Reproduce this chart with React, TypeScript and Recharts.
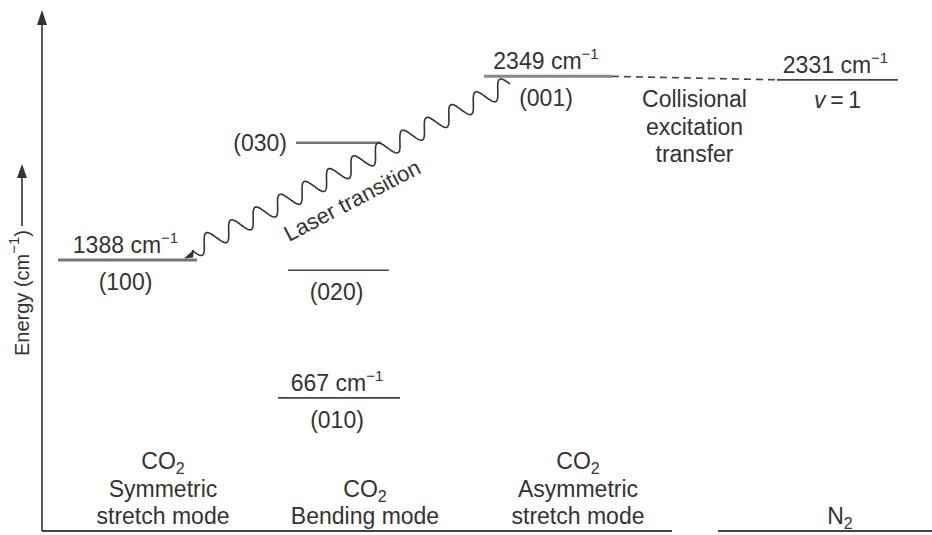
import React from "react";
import { ComposedChart, XAxis, YAxis, ReferenceLine, ReferenceDot } from "recharts";

const FONT = "'Liberation Sans', Arial, Helvetica, sans-serif";
const INK = "#333";
const FS = 23;

// vibrational levels, energy in cm^-1
const levelStates = ["(100)", "(030)", "(020)", "(010)", "(001)", "v=1"];
const levelEnergies = [1388, 2001, 1334, 667, 2349, 2331];
const levelValueLabels = ["1388", "", "", "667", "2349", "2331"];

// captions under the diagram
const modeCaptions = [
  ["CO₂", "Symmetric", "stretch mode"],
  ["CO₂", "Bending mode"],
  ["CO₂", "Asymmetric", "stretch mode"],
  ["N₂"],
];

const transferText = ["Collisional", "excitation", "transfer"];
const laserText = "Laser transition";

// layout (diagram x units = px)
const levelSpans = [
  [58, 197],
  [296, 381],
  [288, 389],
  [278, 400],
  [484, 612],
  [777, 898],
];
const levelColors = ["#777", "#777", "#444", "#444", "#888", "#444"];
const levelWidths = [3, 2.5, 1.6, 1.8, 3, 1.8];
const modeCenters = [163, 365, 578, 840];

const W = 932;
const H = 535;
const E_MIN = -30;
const E_MAX = 2670;

const chartData = levelEnergies.map((e, i) => ({
  x: (levelSpans[i][0] + levelSpans[i][1]) / 2,
  energy: e,
}));

const Sup = () => (
  <tspan dy={-10} fontSize={15}>
    −1
  </tspan>
);

function Caption({ text, x, y }: { text: string; x: number; y: number }) {
  const parts = text.split("₂");
  if (parts.length > 1) {
    return (
      <text x={x} y={y} textAnchor="middle" fontSize={FS} fill={INK} fontFamily={FONT}>
        {parts[0]}
        <tspan dy={5} fontSize={16}>
          2
        </tspan>
      </text>
    );
  }
  return (
    <text x={x} y={y} textAnchor="middle" fontSize={FS} fill={INK} fontFamily={FONT}>
      {text}
    </text>
  );
}

function levelShape(i: number) {
  return (p: any) => {
    const { x1, x2, y1 } = p;
    const cx = (x1 + x2) / 2;
    const state = levelStates[i];
    const value = levelValueLabels[i];
    return (
      <g>
        <line x1={x1} y1={y1} x2={x2} y2={y1} stroke={levelColors[i]} strokeWidth={levelWidths[i]} />
        {value && (
          <text x={cx - 2} y={y1 - 7} textAnchor="middle" fontSize={FS} fill={INK} fontFamily={FONT}>
            {value} cm
            <Sup />
          </text>
        )}
        {i === 1 ? (
          <text x={x1 - 9} y={y1 + 8} textAnchor="end" fontSize={FS} fill={INK} fontFamily={FONT}>
            {state}
          </text>
        ) : state === "v=1" ? (
          <text x={cx} y={y1 + 28} textAnchor="middle" fontSize={FS} fill={INK} fontFamily={FONT}>
            <tspan fontStyle="italic">v</tspan>
            {"\u2009=\u20091"}
          </text>
        ) : (
          <text x={cx - 2} y={y1 + 30} textAnchor="middle" fontSize={FS} fill={INK} fontFamily={FONT}>
            {state}
          </text>
        )}
      </g>
    );
  };
}

const transferShape = (p: any) => {
  const { x1, x2, y1, y2 } = p;
  const cx = (x1 + x2) / 2;
  return (
    <g>
      <line x1={x1} y1={y1} x2={x2} y2={y2} stroke="#444" strokeWidth={1.6} strokeDasharray="7 5" />
      {transferText.map((t, k) => (
        <text key={k} x={cx} y={y1 + 31 + k * 27.5} textAnchor="middle" fontSize={FS} fill={INK} fontFamily={FONT}>
          {t}
        </text>
      ))}
    </g>
  );
};

const waveShape = (p: any) => {
  const { x1, y1, x2, y2 } = p;
  const dx = x2 - x1;
  const dy = y2 - y1;
  const len = Math.hypot(dx, dy);
  const ux = dx / len;
  const uy = dy / len;
  const nx = -uy;
  const ny = ux;
  const periods = 13;
  const amp = 9;
  let d = "";
  const steps = 700;
  for (let k = 0; k <= steps; k++) {
    const t = k / steps;
    const off = amp * Math.sin(2 * Math.PI * periods * t);
    const px = x1 + dx * t + nx * off;
    const py = y1 + dy * t + ny * off;
    d += (k === 0 ? "M" : "L") + px.toFixed(2) + "," + py.toFixed(2);
  }
  const mx = x1 + dx * 0.46 + nx * 30;
  const my = y1 + dy * 0.46 + ny * 30;
  const ang = (Math.atan2(dy, dx) * 180) / Math.PI;
  return (
    <g>
      <path d={d} fill="none" stroke="#333" strokeWidth={1.6} />
      <polygon
        points={`${x1 - 8},${y1 + 8} ${x1 + 2},${y1 - 1} ${x1 + 1},${y1 + 7}`}
        fill="#333"
      />
      <text
        x={mx}
        y={my}
        textAnchor="middle"
        dominantBaseline="central"
        fontSize={FS - 1}
        fill={INK}
        fontFamily={FONT}
        transform={`rotate(${ang} ${mx} ${my})`}
      >
        {laserText}
      </text>
    </g>
  );
};

const arrowHead = (p: any) => {
  const { cx, cy } = p;
  return <polygon points={`${cx},${cy - 5} ${cx - 5},${cy + 10} ${cx + 5},${cy + 10}`} fill="#333" />;
};

const EnergyLabel = () => (
  <g>
    <text
      x={29}
      y={356}
      textAnchor="start"
      fontSize={20}
      fill={INK}
      fontFamily={FONT}
      transform="rotate(-90 29 356)"
    >
      Energy (cm
      <Sup />
      <tspan dy={10}>)</tspan>
    </text>
    <line x1={22} y1={226} x2={22} y2={176} stroke="#333" strokeWidth={1.6} />
    <polygon points="22,164 17,178 27,178" fill="#333" />
  </g>
);

const ModeTick = (p: any) => {
  const idx = modeCenters.indexOf(p.payload.value);
  const lines = modeCaptions[idx] || [];
  const n = lines.length;
  return (
    <g>
      {lines.map((t, k) => (
        <Caption key={k} text={t} x={p.x} y={524 - (n - 1 - k) * 27.5} />
      ))}
    </g>
  );
};

export default function App() {
  return (
    <div style={{ position: "absolute", left: 0, top: 0, width: W, height: H, background: "#fff" }}>
      <ComposedChart
        width={W}
        height={H}
        margin={{ top: 15, right: 0, bottom: 3, left: 0 }}
        data={chartData}
      >
        <XAxis
          type="number"
          dataKey="x"
          domain={[42, W]}
          allowDataOverflow
          ticks={modeCenters}
          interval={0}
          axisLine={false}
          tickLine={false}
          height={1}
          tick={<ModeTick />}
        />
        <YAxis
          type="number"
          dataKey="energy"
          domain={[E_MIN, E_MAX]}
          allowDataOverflow
          width={42}
          tick={false}
          tickLine={false}
          axisLine={{ stroke: "#333", strokeWidth: 1.6 }}
          label={{ content: () => <EnergyLabel /> }}
        />
        <ReferenceDot x={42} y={E_MAX} r={5} shape={arrowHead} />
        <ReferenceLine
          segment={[
            { x: 42, y: E_MIN },
            { x: 672, y: E_MIN },
          ]}
          stroke="#444"
          strokeWidth={2}
        />
        <ReferenceLine
          segment={[
            { x: 718, y: E_MIN },
            { x: W, y: E_MIN },
          ]}
          stroke="#444"
          strokeWidth={2}
        />
        {levelEnergies.map((e, i) => (
          <ReferenceLine
            key={levelStates[i]}
            segment={[
              { x: levelSpans[i][0], y: e },
              { x: levelSpans[i][1], y: e },
            ]}
            shape={levelShape(i)}
          />
        ))}
        <ReferenceLine
          segment={[
            { x: 612, y: levelEnergies[4] },
            { x: 777, y: levelEnergies[5] },
          ]}
          shape={transferShape}
        />
        <ReferenceLine
          segment={[
            { x: 192, y: levelEnergies[0] + 50 },
            { x: 510, y: levelEnergies[4] - 40 },
          ]}
          shape={waveShape}
        />
      </ComposedChart>
    </div>
  );
}
